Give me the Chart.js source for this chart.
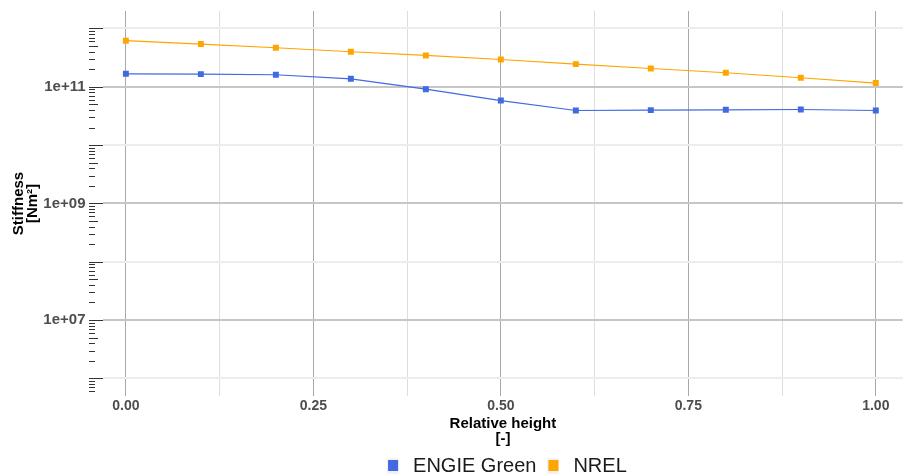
<!DOCTYPE html>
<html>
<head>
<meta charset="utf-8">
<title>Stiffness vs relative height</title>
<script src="https://cdn.jsdelivr.net/npm/chart.js@4/dist/chart.umd.min.js"></script>
<style>
  html, body { margin: 0; padding: 0; background: #fff; }
  canvas { display: block; }
</style>
</head>
<body>
<canvas id="stiffChart" width="907" height="475"></canvas>
<script>
// Data
const heights = [0, 0.1, 0.2, 0.3, 0.4, 0.5, 0.6, 0.7, 0.8, 0.9, 1.0];
const engieStiffness = [1.67e11, 1.65e11, 1.61e11, 1.37e11, 9.1e10, 5.8e10, 3.92e10, 3.98e10, 4.03e10, 4.08e10, 3.92e10];
const nrelStiffness = [6.17e11, 5.41e11, 4.67e11, 3.99e11, 3.45e11, 2.94e11, 2.45e11, 2.06e11, 1.74e11, 1.43e11, 1.16e11];
const seriesNames = ['ENGIE Green', 'NREL'];
const seriesColors = ['#4169E1', '#FFA500'];

// Axis ticks
const xTicks = [0, 0.125, 0.25, 0.375, 0.5, 0.625, 0.75, 0.875, 1];
const xLabelled = [0, 0.25, 0.5, 0.75, 1];
const yDecades = [1e6, 1e7, 1e8, 1e9, 1e10, 1e11, 1e12];
const yLabelled = [1e7, 1e9, 1e11];
const yRangeExp = [5.697, 12.3];
const xRange = [-0.0305, 1.036];

Chart.defaults.font.family = "'Liberation Sans', Arial, sans-serif";

function toPoints(values) {
    return heights.map((h, i) => ({ x: h, y: values[i] }));
}

// little legend key: faint grey square with the colour block inside
function keyImage(color) {
    const c = document.createElement('canvas');
    c.width = 12;
    c.height = 16;
    const g = c.getContext('2d');
    g.fillStyle = '#f2f2f4';
    g.fillRect(0, 0, 12, 16);
    g.fillStyle = color;
    g.fillRect(1, 2, 10, 11);
    return c;
}
const keyImages = seriesColors.map(keyImage);

// short / mid / long log ticks left of the panel
const logTicks = {
    id: 'logTicks',
    afterDraw(chart) {
        const ys = chart.scales.y;
        const ctx = chart.ctx;
        const x0 = ys.right - 14;
        ctx.save();
        ctx.strokeStyle = '#333';
        ctx.lineWidth = 1;
        for (let e = 5; e <= 12; e++) {
            for (let m = 1; m <= 9; m++) {
                const v = m * Math.pow(10, e);
                if (v < ys.min || v > ys.max) continue;
                const py = Math.round(ys.getPixelForValue(v)) + 0.5;
                if (py < chart.chartArea.top + 2 || py > chart.chartArea.bottom - 2) continue;
                const len = m === 1 ? 14 : (m === 5 ? 9 : 6);
                ctx.beginPath();
                ctx.moveTo(x0, py);
                ctx.lineTo(x0 + len, py);
                ctx.stroke();
            }
        }
        ctx.restore();
    }
};

// move the legend down and centre it under the panel
const legendPlace = {
    id: 'legendPlace',
    afterLayout(chart) {
        const l = chart.legend;
        const ca = chart.chartArea;
        if (!l) return;
        const d = (ca.left + ca.right - l.left - l.right) / 2 + 2;
        l.left += d;
        l.right += d;
        l.top += 11;
        l.bottom += 11;
    }
};

const ctx = document.getElementById('stiffChart');
new Chart(ctx, {
    type: 'line',
    data: {
        datasets: [
            {
                label: seriesNames[0],
                data: toPoints(engieStiffness),
                borderColor: seriesColors[0],
                backgroundColor: seriesColors[0],
                borderWidth: 1.2,
                pointStyle: 'rect',
                pointRadius: 4.2,
                pointBorderWidth: 0,
                tension: 0
            },
            {
                label: seriesNames[1],
                data: toPoints(nrelStiffness),
                borderColor: seriesColors[1],
                backgroundColor: seriesColors[1],
                borderWidth: 1.2,
                pointStyle: 'rect',
                pointRadius: 4.2,
                pointBorderWidth: 0,
                tension: 0
            }
        ]
    },
    options: {
        responsive: false,
        animation: false,
        layout: { padding: { top: 11, right: 1, bottom: 0, left: 0 } },
        plugins: {
            tooltip: { enabled: false },
            legend: {
                position: 'bottom',
                labels: {
                    usePointStyle: true,
                    pointStyleWidth: 20,
                    padding: 7,
                    color: '#1a1a1a',
                    font: { size: 20 },
                    generateLabels(chart) {
                        const items = Chart.defaults.plugins.legend.labels.generateLabels(chart);
                        items.forEach((it, i) => { it.pointStyle = keyImages[i]; });
                        return items;
                    }
                }
            }
        },
        scales: {
            x: {
                type: 'linear',
                min: xRange[0],
                max: xRange[1],
                afterBuildTicks: s => { s.ticks = xTicks.map(v => ({ value: v })); },
                afterFit: s => { s.height = 42; },
                border: { display: false },
                grid: {
                    drawTicks: false,
                    color: c => xLabelled.includes(c.tick.value) ? '#a8a8a8' : '#dedede',
                    lineWidth: 1
                },
                ticks: {
                    autoSkip: false,
                    maxRotation: 0,
                    padding: 2,
                    color: '#4d4d4d',
                    font: { size: 14, weight: 'bold' },
                    callback: v => xLabelled.includes(v) ? v.toFixed(2) : ''
                },
                title: {
                    display: true,
                    text: ['Relative height', '[-]'],
                    color: '#000',
                    font: { size: 15, weight: 'bold', lineHeight: '15px' },
                    padding: { top: 0, bottom: -8 }
                }
            },
            y: {
                type: 'logarithmic',
                min: Math.pow(10, yRangeExp[0]),
                max: Math.pow(10, yRangeExp[1]),
                afterBuildTicks: s => { s.ticks = yDecades.map(v => ({ value: v })); },
                afterFit: s => { s.width = 103; },
                border: { display: false },
                grid: {
                    drawTicks: true,
                    tickLength: 17.5,
                    tickColor: 'rgba(0,0,0,0)',
                    color: c => yLabelled.includes(c.tick.value) ? '#c6c6c6' : '#ededed',
                    lineWidth: 2
                },
                ticks: {
                    autoSkip: false,
                    padding: 0,
                    color: '#4d4d4d',
                    font: { size: 15, weight: 'bold' },
                    callback: v => yLabelled.includes(v)
                        ? '1e+' + String(Math.round(Math.log10(v))).padStart(2, '0')
                        : ''
                },
                title: {
                    display: true,
                    text: ['Stiffness', '[Nm\u00B2]'],
                    color: '#000',
                    font: { size: 15, weight: 'bold', lineHeight: '14px' },
                    padding: { top: 12, bottom: 0 }
                }
            }
        }
    },
    plugins: [logTicks, legendPlace]
});
</script>
</body>
</html>
